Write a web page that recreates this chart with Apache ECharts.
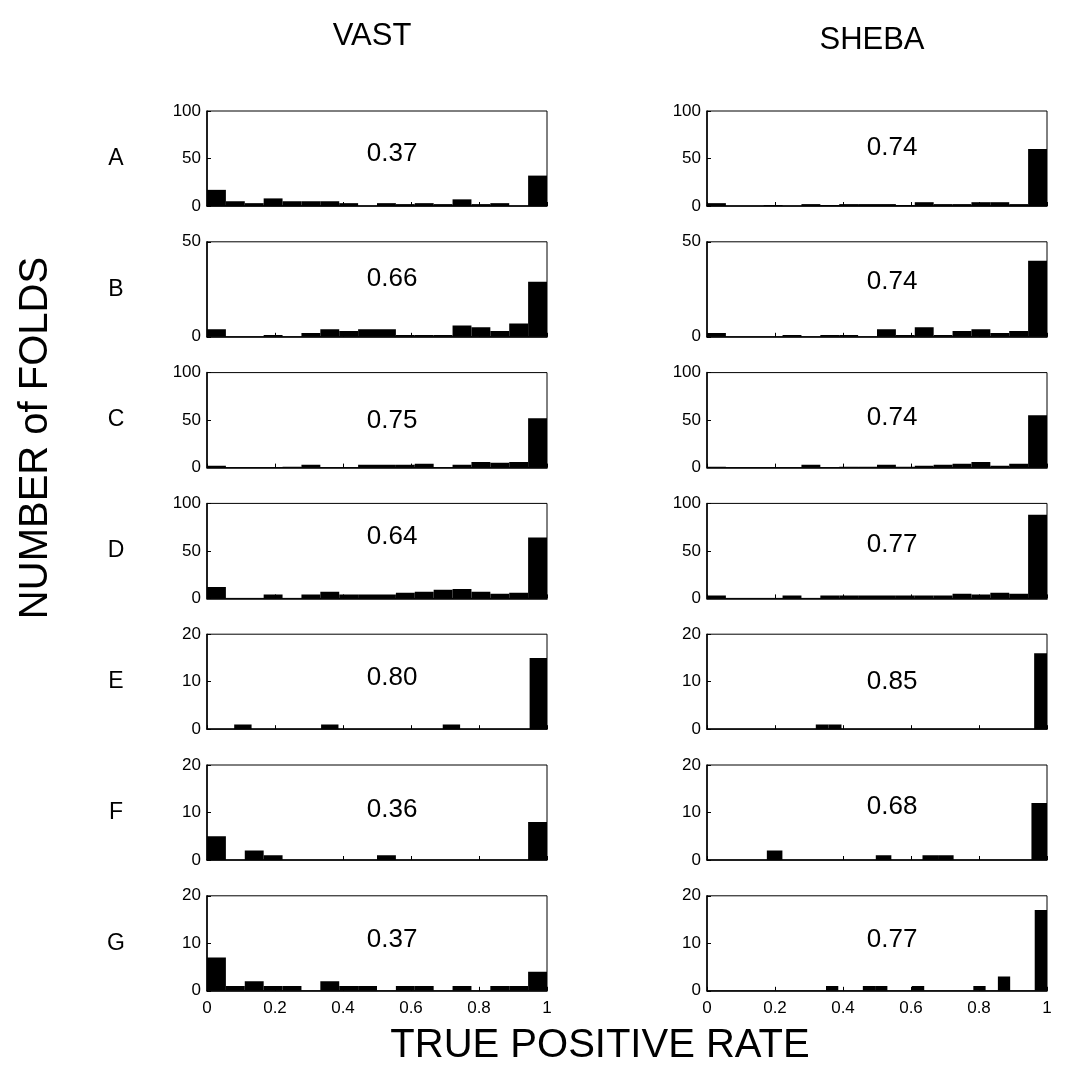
<!DOCTYPE html>
<html>
<head>
<meta charset="utf-8">
<script src="https://cdn.jsdelivr.net/npm/echarts@6.0.0/dist/echarts.min.js"></script>
<style>
  html, body { margin: 0; padding: 0; background: #fff; }
  #chart { width: 1086px; height: 1080px; }
</style>
</head>
<body>
<div id="chart"></div>
<script>
  // 7 rows (A..G) x 2 methods, each panel an 18-bin histogram from its lowest value up to 1
  const rowLabels = ['A', 'B', 'C', 'D', 'E', 'F', 'G'];
  const yMax = [100, 50, 100, 100, 20, 20, 20];
  const yStep = [50, 50, 50, 50, 10, 10, 10];
  const xTicks = [0, 0.2, 0.4, 0.6, 0.8, 1];

  const vastLow = [0, 0, 0, 0, 0.08, 0, 0];
  const vastScore = ['0.37', '0.66', '0.75', '0.64', '0.80', '0.36', '0.37'];
  const vastA = [17, 5, 3, 8, 5, 5, 5, 3, 0, 3, 2, 3, 2, 7, 2, 3, 0, 32];
  const vastB = [4, 0, 0, 1, 0, 2, 4, 3, 4, 4, 1, 1, 1, 6, 5, 3, 7, 29];
  const vastC = [2, 0, 0, 0, 1, 3, 0, 0, 3, 3, 3, 4, 0, 3, 6, 5, 6, 52];
  const vastD = [12, 0, 0, 4, 0, 4, 7, 4, 4, 4, 6, 7, 9, 10, 7, 5, 6, 64];
  const vastE = [1, 0, 0, 0, 0, 1, 0, 0, 0, 0, 0, 0, 1, 0, 0, 0, 0, 15];
  const vastF = [5, 0, 2, 1, 0, 0, 0, 0, 0, 1, 0, 0, 0, 0, 0, 0, 0, 8];
  const vastG = [7, 1, 2, 1, 1, 0, 2, 1, 1, 0, 1, 1, 0, 1, 0, 1, 1, 4];

  const shebaLow = [0, 0, 0, 0, 0.32, 0.176, 0.35];
  const shebaScore = ['0.74', '0.74', '0.74', '0.77', '0.85', '0.68', '0.77'];
  const shebaA = [3, 0, 0, 1, 0, 2, 1, 2, 2, 2, 1, 4, 2, 2, 4, 4, 2, 60];
  const shebaB = [2, 0, 0, 0, 1, 0, 1, 1, 0, 4, 1, 5, 1, 3, 4, 2, 3, 40];
  const shebaC = [1, 0, 0, 0, 0, 3, 0, 1, 1, 3, 1, 2, 3, 4, 6, 2, 4, 55];
  const shebaD = [3, 0, 0, 0, 3, 0, 3, 3, 3, 3, 3, 3, 3, 5, 4, 6, 5, 88];
  const shebaE = [1, 1, 0, 0, 0, 0, 0, 0, 0, 0, 0, 0, 0, 0, 0, 0, 0, 16];
  const shebaF = [2, 0, 0, 0, 0, 0, 0, 1, 0, 0, 1, 1, 0, 0, 0, 0, 0, 12];
  const shebaG = [1, 0, 0, 1, 1, 0, 0, 1, 0, 0, 0, 0, 1, 0, 3, 0, 0, 17];

  const vastCounts = [vastA, vastB, vastC, vastD, vastE, vastF, vastG];
  const shebaCounts = [shebaA, shebaB, shebaC, shebaD, shebaE, shebaF, shebaG];

  // layout
  const FONT = '"Liberation Sans", Arial, sans-serif';
  const colLeft = [207, 707];
  const panelW = 340;
  const panelH = 95;
  const firstTop = 111;
  const rowStep = 130.8;
  // small vertical nudges of the score text, px from panel middle
  const scoreDy = [
    [-5, -10, 1, -14, -4, -3, -3],
    [-11, -7, -2, -6, 0, -6, -3],
  ];

  // [binStart, binEnd, count]
  function toBins(low, counts) {
    const w = (1 - low) / counts.length;
    return counts.map((n, i) => [low + i * w, low + (i + 1) * w, n]);
  }

  const chart = echarts.init(document.getElementById('chart'));
  const grid = [], xAxis = [], yAxis = [], series = [], graphic = [];

  [[vastLow, vastCounts, vastScore], [shebaLow, shebaCounts, shebaScore]].forEach((col, c) => {
    const [lows, counts, scores] = col;
    rowLabels.forEach((lab, r) => {
      const idx = grid.length;
      const top = firstTop + r * rowStep;
      const mid = top + panelH / 2;
      const last = r === rowLabels.length - 1;
      grid.push({
        left: colLeft[c], top: top, width: panelW, height: panelH,
        show: true, borderColor: '#000', borderWidth: 1, backgroundColor: 'transparent',
      });
      xAxis.push({
        type: 'value', gridIndex: idx, min: 0, max: 1, interval: 0.2,
        axisLine: { show: true, lineStyle: { color: '#000', width: 1.5 } },
        axisTick: { show: true, inside: true, length: 4, lineStyle: { color: '#000' } },
        axisLabel: {
          show: last, color: '#000', fontSize: 17, fontFamily: FONT, margin: 9,
          formatter: (v) => (xTicks.includes(v) ? String(v) : ''),
        },
        splitLine: { show: false },
      });
      yAxis.push({
        type: 'value', gridIndex: idx, min: 0, max: yMax[r], interval: yStep[r],
        axisLine: { show: true, lineStyle: { color: '#000', width: 1.5 } },
        axisTick: { show: true, inside: true, length: 4, lineStyle: { color: '#000' } },
        axisLabel: { color: '#000', fontSize: 17, fontFamily: FONT, margin: 6 },
        splitLine: { show: false },
      });
      series.push({
        type: 'custom', xAxisIndex: idx, yAxisIndex: idx, clip: true,
        data: toBins(lows[r], counts[r]),
        renderItem: (params, api) => {
          const p0 = api.coord([api.value(0), api.value(2)]);
          const p1 = api.coord([api.value(1), 0]);
          return {
            type: 'rect',
            shape: { x: p0[0], y: p0[1], width: p1[0] - p0[0], height: p1[1] - p0[1] },
            style: { fill: '#000' },
          };
        },
      });
      // score text
      graphic.push({
        type: 'text', x: colLeft[c] + panelW * 0.47, y: mid + scoreDy[c][r],
        style: { text: scores[r], fontSize: 26, fontFamily: FONT, fill: '#000', verticalAlign: 'middle' },
      });
      if (c === 0) {
        graphic.push({
          type: 'text', x: 116, y: mid,
          style: { text: lab, fontSize: 23, fontFamily: FONT, fill: '#000', align: 'center', verticalAlign: 'middle' },
        });
      }
    });
  });

  graphic.push(
    { type: 'text', x: 372, y: 36, style: { text: 'VAST', fontSize: 31, fontFamily: FONT, fill: '#000', align: 'center', verticalAlign: 'middle' } },
    { type: 'text', x: 872, y: 40, style: { text: 'SHEBA', fontSize: 31, fontFamily: FONT, fill: '#000', align: 'center', verticalAlign: 'middle' } },
    {
      type: 'text', x: 36, y: 438, rotation: Math.PI / 2,
      style: { text: 'NUMBER of FOLDS', fontSize: 40, fontFamily: FONT, fill: '#000', align: 'center', verticalAlign: 'middle' },
    },
    {
      type: 'text', x: 600, y: 1046,
      style: { text: 'TRUE POSITIVE RATE', fontSize: 40, fontFamily: FONT, fill: '#000', align: 'center', verticalAlign: 'middle' },
    }
  );

  chart.setOption({
    animation: false,
    backgroundColor: '#fff',
    grid, xAxis, yAxis, series, graphic,
  });
</script>
</body>
</html>
